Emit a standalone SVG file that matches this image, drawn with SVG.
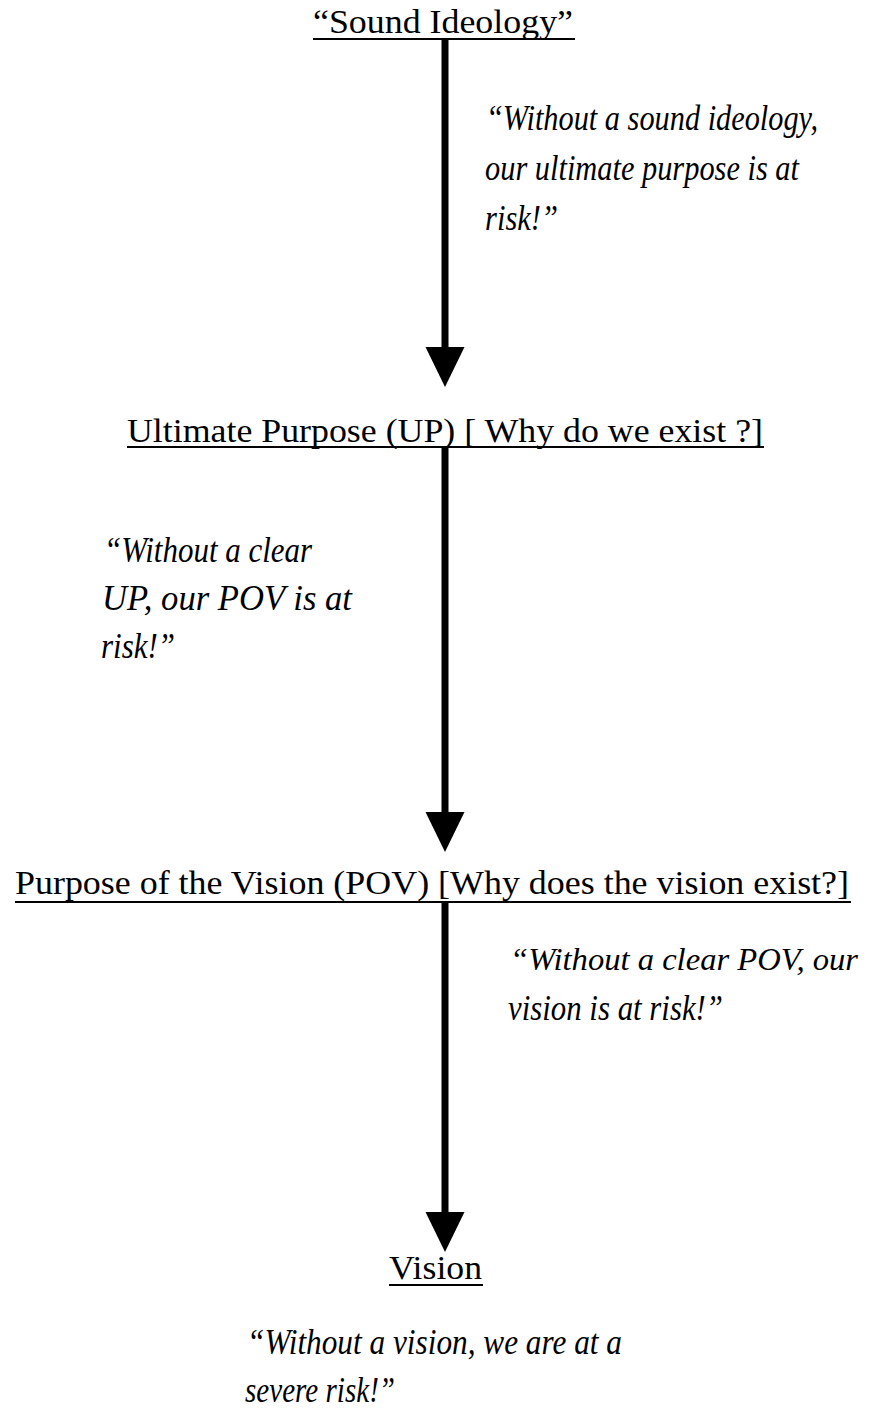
<svg xmlns="http://www.w3.org/2000/svg" width="870" height="1409" viewBox="0 0 870 1409">
<defs>
<style>
.title{font-family:"Liberation Serif","DejaVu Serif",serif;font-size:34px;fill:#000}
.quote{font-family:"Liberation Serif","DejaVu Serif",serif;font-size:35px;font-style:italic;fill:#000}
.q32{font-size:32px}
.ul{stroke:#000;stroke-width:2}
.shaft{stroke:#000;stroke-width:7;fill:none;marker-end:url(#head)}
</style>
<marker id="head" markerUnits="userSpaceOnUse" markerWidth="40" markerHeight="40" refX="0" refY="19.5" orient="auto" overflow="visible">
<path d="M0,0 L40,19.5 L0,39 Z" fill="#000"/>
</marker>
</defs>
<rect width="870" height="1409" fill="#fff"/>

<g id="connectors">
<line class="shaft" x1="445" y1="39" x2="445" y2="347"/>
<line class="shaft" x1="445" y1="447" x2="445" y2="812"/>
<line class="shaft" x1="445" y1="902" x2="445" y2="1212"/>
</g>

<g id="node-sound-ideology">
<text class="title" x="313" y="33" textLength="260" lengthAdjust="spacingAndGlyphs">“Sound Ideology”</text>
<line class="ul" x1="313" y1="39" x2="575" y2="39"/>
</g>

<g id="note-1">
<text class="quote" x="486" y="130" textLength="332" lengthAdjust="spacingAndGlyphs">“Without a sound ideology,</text>
<text class="quote" x="485" y="180" textLength="314" lengthAdjust="spacingAndGlyphs">our ultimate purpose is at</text>
<text class="quote" x="485" y="230" textLength="73" lengthAdjust="spacingAndGlyphs">risk!”</text>
</g>

<g id="node-ultimate-purpose">
<text class="title" x="127" y="442" textLength="636" lengthAdjust="spacingAndGlyphs">Ultimate Purpose (UP) [ Why do we exist ?]</text>
<line class="ul" x1="127" y1="447" x2="764" y2="447"/>
</g>

<g id="note-2">
<text class="quote" x="104" y="562" textLength="208" lengthAdjust="spacingAndGlyphs">“Without a clear</text>
<text class="quote" x="102" y="610" textLength="250" lengthAdjust="spacingAndGlyphs">UP, our POV is at</text>
<text class="quote" x="101" y="658" textLength="74" lengthAdjust="spacingAndGlyphs">risk!”</text>
</g>

<g id="node-purpose-of-vision">
<text class="title" x="15" y="894" textLength="834" lengthAdjust="spacingAndGlyphs">Purpose of the Vision (POV) [Why does the vision exist?]</text>
<line class="ul" x1="15" y1="902" x2="851" y2="902"/>
</g>

<g id="note-3">
<text class="quote q32" x="510" y="970" textLength="348" lengthAdjust="spacingAndGlyphs">“Without a clear POV, our</text>
<text class="quote" x="508" y="1020" textLength="215" lengthAdjust="spacingAndGlyphs">vision is at risk!”</text>
</g>

<g id="node-vision">
<text class="title" x="389" y="1279" textLength="93" lengthAdjust="spacingAndGlyphs">Vision</text>
<line class="ul" x1="389" y1="1285" x2="483" y2="1285"/>
</g>

<g id="note-4">
<text class="quote" x="247" y="1354" textLength="375" lengthAdjust="spacingAndGlyphs">“Without a vision, we are at a</text>
<text class="quote" x="245" y="1402" textLength="150" lengthAdjust="spacingAndGlyphs">severe risk!”</text>
</g>
</svg>
